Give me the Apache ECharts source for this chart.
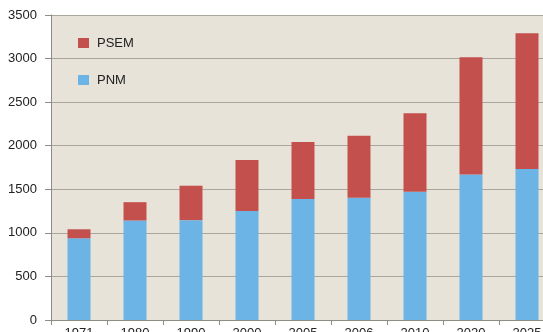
<!DOCTYPE html>
<html>
<head>
<meta charset="utf-8">
<script src="https://cdn.jsdelivr.net/npm/echarts@6/dist/echarts.min.js"></script>
<style>
  html, body { margin: 0; padding: 0; background: #ffffff; }
  #chart { width: 543px; height: 332px; }
</style>
</head>
<body>
<div id="chart"></div>
<script>
// Years on the category axis
const years = ['1971', '1980', '1990', '2000', '2005', '2006', '2010', '2020', '2025'];
// Lower stack segment
const pnm = [938, 1142, 1146, 1251, 1389, 1404, 1472, 1670, 1733];
// Upper stack segment
const psem = [103, 210, 395, 585, 654, 711, 901, 1345, 1557];
// Value axis range
const yMin = 0;
const yMax = 3500;
const yStep = 500;

const chart = echarts.init(document.getElementById('chart'), null, { renderer: 'canvas' });

const font = '"Liberation Sans", Arial, sans-serif';

chart.setOption({
  animation: false,
  backgroundColor: '#ffffff',
  textStyle: { fontFamily: font },
  grid: {
    left: 51,
    top: 15,
    width: 504,
    height: 305,
    show: true,
    backgroundColor: '#e7e3d9',
    borderWidth: 0,
    containLabel: false,
    outerBoundsMode: 'none'
  },
  legend: {
    orient: 'vertical',
    left: 78,
    top: 36,
    padding: 0,
    itemWidth: 11,
    itemHeight: 10,
    itemGap: 23,
    icon: 'rect',
    data: ['PSEM', 'PNM'],
    textStyle: { fontFamily: font, fontSize: 13, color: '#222222', lineHeight: 14, padding: [0, 0, 0, 3] }
  },
  xAxis: {
    type: 'category',
    data: years,
    axisLine: { show: true, lineStyle: { color: '#8f8c86', width: 1 } },
    axisTick: { show: true, length: 5, lineStyle: { color: '#8f8c86' } },
    axisLabel: { fontSize: 13, color: '#222222', margin: 7, fontFamily: font, hideOverlap: false },
    splitLine: { show: false }
  },
  yAxis: {
    type: 'value',
    min: yMin,
    max: yMax,
    interval: yStep,
    axisLine: { show: true, lineStyle: { color: '#8f8c86', width: 1 } },
    axisTick: { show: true, length: 6, lineStyle: { color: '#8f8c86' } },
    axisLabel: {
      fontSize: 13, color: '#222222', margin: 14, fontFamily: font,
      formatter: (v) => String(v)
    },
    splitLine: { show: true, lineStyle: { color: '#aaa69d', width: 1 } }
  },
  series: [
    {
      name: 'PNM',
      type: 'bar',
      stack: 'total',
      barWidth: 23,
      data: pnm,
      itemStyle: { color: '#6cb4e6' }
    },
    {
      name: 'PSEM',
      type: 'bar',
      stack: 'total',
      barWidth: 23,
      data: psem,
      itemStyle: { color: '#c4504d' }
    }
  ]
});
</script>
</body>
</html>
